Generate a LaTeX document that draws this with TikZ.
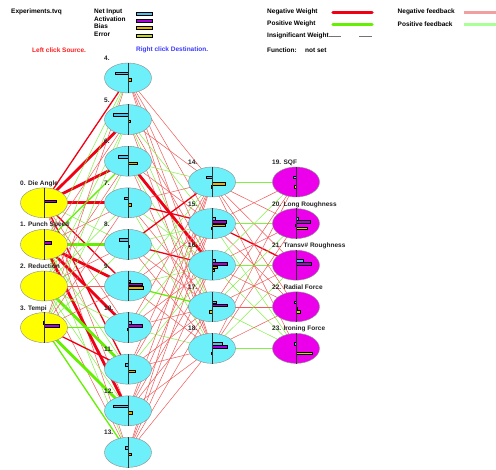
\documentclass[tikz,border=0pt]{standalone}
\usepackage{fontspec}
\setmainfont{Liberation Sans}
\usetikzlibrary{shapes.geometric,calc,backgrounds}
\definecolor{inyellow}{RGB}{255,255,0}
\definecolor{hidcyan}{RGB}{110,240,250}
\definecolor{outmag}{RGB}{236,0,236}
\definecolor{netblue}{RGB}{80,190,230}
\definecolor{actpurple}{RGB}{170,0,220}
\definecolor{biasyel}{RGB}{225,180,0}
\definecolor{errolive}{RGB}{200,215,20}
\definecolor{negred}{RGB}{240,0,20}
\definecolor{thinred}{RGB}{240,90,90}
\definecolor{posgreen}{RGB}{100,240,0}
\definecolor{thingreen}{RGB}{130,240,70}
\definecolor{fbred}{RGB}{240,160,160}
\definecolor{fbgreen}{RGB}{170,255,150}
\definecolor{srcred}{RGB}{255,30,30}
\definecolor{dstblue}{RGB}{60,60,255}
\tikzset{
  txt/.style={anchor=west, inner sep=0pt},
  lbl/.style={anchor=base west, inner sep=0pt, text=black!85},
  unit/.style={ellipse, draw=black!45, minimum width=47pt, minimum height=30pt, inner sep=0pt},
  inp/.style={unit, fill=inyellow},
  hid/.style={unit, fill=hidcyan},
  outp/.style={unit, fill=outmag},
  midline/.style={draw=black!80, line width=0.6pt},
  netbar/.style={draw=black, line width=0.35pt, fill=netblue},
  actbar/.style={draw=black, line width=0.35pt, fill=actpurple},
  biasbar/.style={draw=black, line width=0.35pt, fill=biasyel},
  errbar/.style={draw=black, line width=0.35pt, fill=errolive},
  wr/.style={draw=thinred, line width=0.5pt},
  wM/.style={draw=negred, line width=1.3pt},
  wR/.style={draw=negred, line width=2.8pt},
  wg/.style={draw=thingreen, line width=0.5pt},
  wP/.style={draw=posgreen, line width=1.3pt},
  wG/.style={draw=posgreen, line width=2.8pt}
}
\newcommand{\nodebars}[5]{%
  \ifdim #2pt=0pt\else\draw[netbar] ($(#1.center)+(0,-6)$) rectangle ++(#2,2.5);\fi
  \ifdim #3pt=0pt\else\draw[actbar] ($(#1.center)+(0,-3)$) rectangle ++(#3,2.5);\fi
  \ifdim #4pt=0pt\else\draw[biasbar] ($(#1.center)+(0,0.5)$) rectangle ++(#4,2.5);\fi
  \ifdim #5pt=0pt\else\draw[errbar] ($(#1.center)+(0,3.5)$) rectangle ++(#5,2.5);\fi
  \draw[midline] (#1.north) -- (#1.south);}

\begin{document}
\begin{tikzpicture}[x=1pt,y=-1pt,font=\bfseries\fontsize{6.5}{7}\selectfont]
\useasboundingbox (0,0) rectangle (496,470);

% header and legends
\node[txt] (file) at (11,12) {Experiments.tvq};
\foreach \k/\t/\s in {0/Net Input/netbar,1/Activation/actbar,2/Bias/biasbar,3/Error/errbar}{
  \node[txt] (leg\k) at (94,{12+7.3*\k}) {\t};
  \draw[\s] (136,{11.8+7.3*\k}) rectangle ++(16,3);
}
\node[txt, text=srcred] (src) at (32,50) {Left click Source.};
\node[txt, text=dstblue] (dst) at (136,50) {Right click Destination.};
\node[txt] (negw) at (267,12) {Negative Weight};
\node[txt] (posw) at (267,24) {Positive Weight};
\node[txt] (insw) at (267,35.5) {Insignificant Weight};
\node[txt] (func) at (267,50.5) {Function:};
\node[txt] (fset) at (305,50.5) {not set};
\node[txt] (negf) at (397.5,12) {Negative feedback};
\node[txt] (posf) at (397.5,24) {Positive feedback};
\coordinate (ln1) at (333,12.5);
\coordinate (ln2) at (333,24.5);
\coordinate (ln3) at (359,36);
\coordinate (ln4) at (464,12.5);
\coordinate (ln5) at (464,24.5);
\draw[draw=negred, line width=3.5pt, line cap=round] (ln1) -- ++(39,0);
\draw[draw=posgreen, line width=3.5pt, line cap=round] (ln2) -- ++(39,0);
\draw[draw=black!55, line width=0.5pt] (insw.east |- ln3) -- ++(12,0);
\draw[draw=black!55, line width=0.5pt] (ln3) -- ++(12.5,0);
\draw[draw=fbred, line width=3.5pt] (ln4) -- ++(33,0);
\draw[draw=fbgreen, line width=3.5pt] (ln5) -- ++(33,0);

% units
\foreach \i/\t in {0/Die Angle,1/Punch Speed,2/Reduction,3/Tempi}{
  \node[inp] (n\i) at (44,{78+41.6*(\i+3)}) {};
}
\foreach \i in {4,...,13}{
  \node[hid] (n\i) at (128,{78+41.6*(\i-4)}) {};
}
\foreach \i in {14,...,18}{
  \node[hid] (n\i) at (212,{182+41.6*(\i-14)}) {};
}
\foreach \i in {19,...,23}{
  \node[outp] (n\i) at (296,{182+41.6*(\i-19)}) {};
}

% bars: net, activation, bias, error
\foreach \n/\a/\b/\c/\d in {0/0/12/0/0,1/0/7/0/0,2/0/0/0/0,3/-1/15/0/0,
  4/-12.5/0/3/0,5/-15/0/2.5/0,6/-9.5/0/9/0,7/-3.5/0/3/0,8/-9/0/1/0,
  9/2/14/15/0,10/3/14/-1/0,11/-2.5/0/7/0,12/-15/0/4/0,13/-3/0/3/0,
  14/-6/0/13/-1,15/3/14/13/-1,16/3/15/5/2,17/4/15/0/-3,18/10/15/0/-1,
  19/-3/0/0/-2,20/2/14/-1/11,21/7/15/0/0,22/-2/0/1.5/4,23/-2/0/0/16}{
  \nodebars{n\n}{\a}{\b}{\c}{\d}
}

% labels
\foreach \i/\t in {0/Die Angle,1/Punch Speed,2/Reduction,3/Tempi,
  19/SQF,20/Long Roughness,21/Transv\# Roughness,22/Radial Force,23/Ironing Force}{
  \node[lbl] (lbl\i) at ($(n\i.center)+(-24,-17.5)$) {\i. \t};
}
\foreach \i in {4,...,18}{
  \node[lbl] (lbl\i) at ($(n\i.center)+(-24,-17.5)$) {\i.};
}

% weights
\begin{scope}[on background layer]
\fill[white] (0,0) rectangle (496,470);
\foreach \d/\w in {4/M,5/R,6/R,7/R,8/g,9/M,10/r,11/M,12/r,13/r}
  \draw[w\w] (n0.center) -- (n\d.center);
\foreach \d/\w in {4/g,5/r,6/P,7/r,8/G,9/R,10/R,11/g,12/R,13/g}
  \draw[w\w] (n1.center) -- (n\d.center);
\foreach \d/\w in {4/g,5/g,6/r,7/g,8/r,9/r,10/g,11/G,12/g,13/r}
  \draw[w\w] (n2.center) -- (n\d.center);
\foreach \d/\w in {4/r,5/g,6/g,7/r,8/g,9/r,10/P,11/M,12/G,13/P}
  \draw[w\w] (n3.center) -- (n\d.center);
\foreach \s/\a/\b/\c/\d/\e in {4/r/r/r/r/r,5/r/g/r/g/r,6/g/r/R/g/r,7/r/M/g/r/g,
  8/M/g/M/r/r,9/g/r/g/P/r,10/r/g/r/r/g,11/r/r/g/r/r,12/r/r/r/r/r,13/r/r/r/r/r}{
  \draw[w\a] (n\s.center) -- (n14.center);
  \draw[w\b] (n\s.center) -- (n15.center);
  \draw[w\c] (n\s.center) -- (n16.center);
  \draw[w\d] (n\s.center) -- (n17.center);
  \draw[w\e] (n\s.center) -- (n18.center);
}
\foreach \s/\a/\b/\c/\d/\e in {14/g/r/r/r/r,15/r/g/M/r/g,16/g/r/g/r/g,
  17/r/g/r/r/g,18/r/r/g/r/g}{
  \draw[w\a] (n\s.center) -- (n19.center);
  \draw[w\b] (n\s.center) -- (n20.center);
  \draw[w\c] (n\s.center) -- (n21.center);
  \draw[w\d] (n\s.center) -- (n22.center);
  \draw[w\e] (n\s.center) -- (n23.center);
}
\end{scope}
\end{tikzpicture}
\end{document}
